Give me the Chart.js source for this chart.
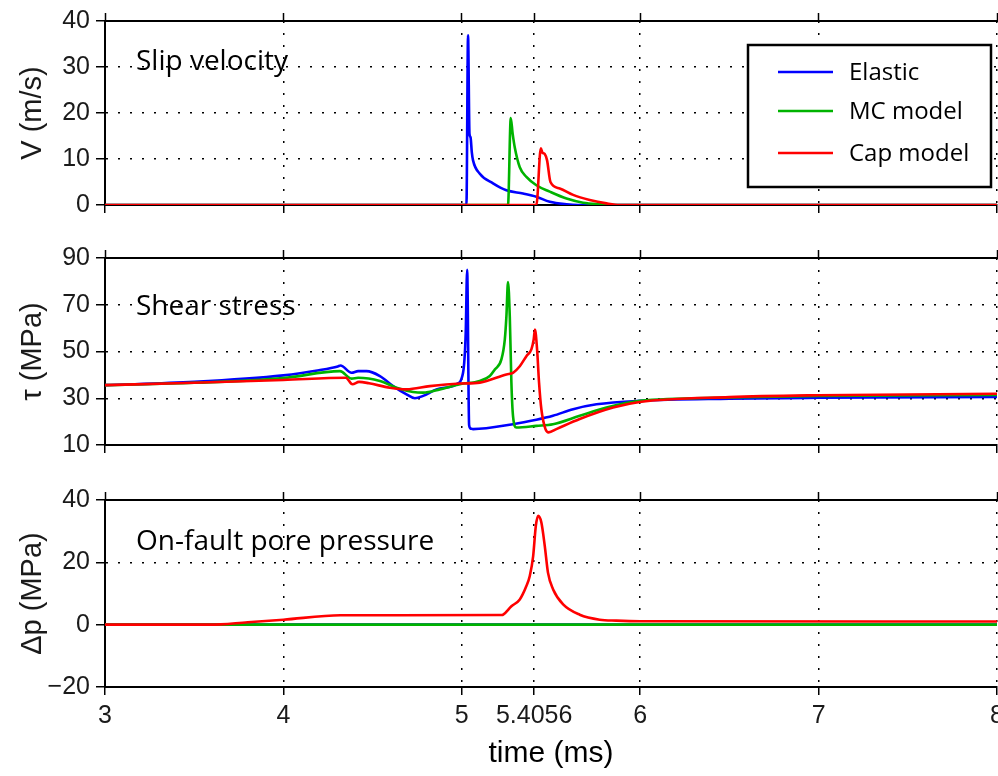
<!DOCTYPE html>
<html>
<head>
<meta charset="utf-8">
<script src="https://cdn.jsdelivr.net/npm/chart.js@4.4.1/dist/chart.umd.min.js"></script>
<style>
  html, body { margin: 0; padding: 0; background: #fff; overflow: hidden; }
  #wrap { position: relative; width: 998px; height: 776px; overflow: hidden; }
  canvas { position: absolute; left: 0; }
</style>
</head>
<body>
<div id="wrap">
  <canvas id="c1" width="1012" height="230" style="top:0px"></canvas>
  <canvas id="c2" width="1012" height="236" style="top:230px"></canvas>
  <canvas id="c3" width="1012" height="310" style="top:466px"></canvas>
</div>
<script>
// series
const seriesNames = ['Elastic', 'MC model', 'Cap model'];
const seriesColors = ['#0000ff', '#00b300', '#ff0000'];

// x axis (time, ms)
const xTickValues = [3, 4, 5, 5.4056, 6, 7, 8];

// slip velocity V (m/s)
const velElasticT = [3, 5.026, 5.035, 5.043, 5.049, 5.056, 5.063, 5.101, 5.175, 5.250, 5.343, 5.418, 5.493, 5.587, 5.65, 8];
const velElastic  = [0, 0, 36.9, 15.5, 14.7, 11.5, 9.7, 6.8, 4.7, 3.2, 2.5, 1.8, 0.7, 0.15, 0, 0];
const velMCT = [3, 5.259, 5.2745, 5.285, 5.297, 5.325, 5.362, 5.418, 5.493, 5.587, 5.680, 5.773, 5.85, 8];
const velMC  = [0, 0, 18.9, 15.5, 12.5, 8.2, 6.1, 4.3, 2.9, 1.4, 0.5, 0.15, 0, 0];
const velCapT = [3, 5.418, 5.443, 5.452, 5.465, 5.478, 5.497, 5.549, 5.624, 5.717, 5.811, 5.885, 8];
const velCap  = [0, 0, 12.3, 11.4, 11.1, 9.7, 5.0, 3.6, 2.2, 1.1, 0.35, 0, 0];

// shear stress tau (MPa)
const tauElasticT = [3, 3.5, 4.0, 4.2, 4.305, 4.32, 4.382, 4.419, 4.466, 4.541, 4.615, 4.690, 4.737, 4.783, 4.858, 4.951, 4.970, 5.007, 5.022, 5.030, 5.041, 5.050, 5.063, 5.287, 5.418, 5.511, 5.624, 5.755, 5.997, 6.5, 7.0, 8];
const tauElastic  = [35.6, 37.0, 39.8, 42.0, 43.6, 44.0, 40.9, 41.6, 41.6, 39.5, 35.2, 31.7, 30.0, 31.0, 33.8, 35.2, 36.0, 40.9, 58.0, 84.9, 18.5, 17.0, 16.8, 18.9, 20.8, 22.5, 25.3, 27.4, 28.9, 29.8, 30.2, 30.6];
const tauMCT = [3, 3.5, 4.0, 4.317, 4.382, 4.419, 4.541, 4.634, 4.727, 4.783, 4.877, 4.989, 5.101, 5.157, 5.185, 5.222, 5.241, 5.250, 5.259, 5.269, 5.278, 5.287, 5.306, 5.418, 5.511, 5.661, 5.811, 5.997, 6.5, 7.0, 8];
const tauMC  = [35.6, 36.6, 38.6, 41.6, 38.4, 38.8, 37.4, 34.5, 32.7, 32.4, 33.8, 36.0, 37.4, 39.5, 42.3, 46.6, 55.1, 65.0, 79.7, 65.0, 36.7, 22.5, 17.5, 18.2, 18.9, 22.5, 26.0, 28.9, 30.3, 31.0, 31.4];
const tauCapT = [3, 3.5, 4.0, 4.35, 4.387, 4.424, 4.480, 4.597, 4.690, 4.821, 4.989, 5.101, 5.250, 5.287, 5.325, 5.362, 5.390, 5.403, 5.410, 5.422, 5.433, 5.446, 5.469, 5.487, 5.530, 5.661, 5.848, 5.997, 6.5, 7.0, 8];
const tauCap  = [35.6, 36.6, 37.8, 38.8, 36.0, 37.0, 36.4, 34.5, 33.8, 35.2, 36.3, 36.7, 40.2, 40.9, 43.7, 48.0, 50.9, 55.1, 59.4, 50.9, 36.7, 25.3, 16.8, 15.4, 16.8, 21.1, 26.0, 28.4, 30.5, 31.3, 31.9];

// on-fault pore pressure change dp (MPa)
const dpElasticT = [3, 8];
const dpElastic  = [0, 0];
const dpMCT = [3, 8];
const dpMC  = [0, 0];
const dpCapT = [3, 3.59, 3.8, 4.0, 4.32, 5.224, 5.232, 5.278, 5.325, 5.362, 5.381, 5.400, 5.415, 5.428, 5.446, 5.465, 5.483, 5.512, 5.568, 5.661, 5.773, 5.866, 6.0, 8];
const dpCap  = [0, 0, 0.8, 1.6, 3.0, 3.1, 3.2, 5.9, 8.1, 12.4, 15.6, 22.0, 31.7, 34.9, 32.8, 25.3, 16.7, 11.3, 6.5, 3.2, 1.6, 1.3, 1.1, 1.0];

const tickFont = { family: '"Liberation Sans", Arial, sans-serif', size: 25 };
const titleFont = { family: '"Liberation Sans", Arial, sans-serif', size: 29 };
const textFont = '"Open Sans", "Noto Sans", sans-serif';

function pts(t, v) {
    return t.map((x, i) => ({ x: x, y: v[i] }));
}

function makeDatasets(list) {
    // Cap model is drawn on top
    return list.map((s, i) => ({
        label: seriesNames[i],
        data: pts(s[0], s[1]),
        borderColor: seriesColors[i],
        backgroundColor: seriesColors[i],
        borderWidth: 2.6,
        pointRadius: 0,
        cubicInterpolationMode: 'monotone',
        fill: false,
        order: list.length - i
    }));
}

// text inside the plot area ("Slip velocity" ...)
const panelLabel = {
    id: 'panelLabel',
    afterDraw(chart, args, opts) {
        if (!opts.text) return;
        const ctx = chart.ctx;
        const a = chart.chartArea;
        ctx.save();
        ctx.font = opts.size + 'px ' + textFont;
        ctx.fillStyle = '#000';
        ctx.textBaseline = 'middle';
        ctx.textAlign = 'left';
        ctx.fillText(opts.text, a.left + 31, a.top + opts.dy);
        ctx.restore();
    }
};

// boxed legend in the top panel
const boxLegend = {
    id: 'boxLegend',
    afterDraw(chart, args, opts) {
        if (!opts.show) return;
        const ctx = chart.ctx;
        const x0 = 748, y0 = 45, w = 243, h = 142;
        ctx.save();
        ctx.fillStyle = '#fff';
        ctx.fillRect(x0, y0, w, h);
        ctx.lineWidth = 2.5;
        ctx.strokeStyle = '#000';
        ctx.strokeRect(x0, y0, w, h);
        ctx.font = '24px ' + textFont;
        ctx.textBaseline = 'middle';
        const rows = [27, 66, 108];
        seriesNames.forEach((name, i) => {
            const y = y0 + rows[i];
            ctx.strokeStyle = seriesColors[i];
            ctx.lineWidth = 2.5;
            ctx.beginPath();
            ctx.moveTo(x0 + 30, y);
            ctx.lineTo(x0 + 85, y);
            ctx.stroke();
            ctx.fillStyle = '#000';
            ctx.fillText(name, x0 + 101, y + 1);
        });
        ctx.restore();
    }
};

function xAxes(showLabels, topH, bottomH) {
    const common = {
        type: 'linear',
        min: 3,
        max: 8,
        afterBuildTicks: axis => { axis.ticks = xTickValues.map(v => ({ value: v })); }
    };
    return {
        x: Object.assign({}, common, {
            position: 'bottom',
            ticks: {
                display: showLabels,
                autoSkip: false,
                maxRotation: 0,
                padding: 6,
                color: '#1a1a1a',
                font: tickFont,
                callback: v => String(v)
            },
            grid: { color: '#000', lineWidth: 1.5, tickLength: 8, tickColor: '#000', tickWidth: 1.5 },
            border: { display: true, color: '#000', width: 2, dash: [2, 10] },
            title: {
                display: showLabels,
                text: 'time (ms)',
                color: '#000',
                font: { family: titleFont.family, size: 30 },
                padding: { top: 0, bottom: 4 }
            },
            afterFit: s => { s.height = bottomH; }
        }),
        xTop: Object.assign({}, common, {
            position: 'top',
            ticks: { display: false },
            grid: { drawOnChartArea: false, tickLength: 8, tickColor: '#000', tickWidth: 1.5, color: '#000' },
            border: { display: true, color: '#000', width: 2 },
            afterFit: s => { s.height = topH; }
        })
    };
}

function yAxis(min, max, step, title) {
    return {
        type: 'linear',
        position: 'left',
        min: min,
        max: max,
        ticks: {
            stepSize: step,
            padding: 6,
            color: '#1a1a1a',
            font: tickFont,
            callback: v => String(v).replace('-', '\u2212')
        },
        grid: { color: '#000', lineWidth: 1.5, tickLength: 9, tickColor: '#000', tickWidth: 1.5 },
        border: { display: true, color: '#000', width: 2, dash: [2, 10] },
        title: {
            display: true,
            text: title,
            color: '#1a1a1a',
            font: titleFont,
            padding: { top: 16, bottom: 0 }
        },
        afterFit: s => { s.width = 105; }
    };
}

function makeChart(id, datasets, y, x, label, legend) {
    const scales = Object.assign({}, x, { y: y });
    return new Chart(document.getElementById(id), {
        type: 'line',
        data: { datasets: datasets },
        options: {
            responsive: false,
            animation: false,
            events: [],
            layout: { padding: { left: 0, right: 15, top: 0, bottom: 0 } },
            scales: scales,
            plugins: {
                legend: { display: false },
                tooltip: { enabled: false },
                panelLabel: label,
                boxLegend: { show: legend }
            }
        },
        plugins: [panelLabel, boxLegend]
    });
}

makeChart('c1',
    makeDatasets([[velElasticT, velElastic], [velMCT, velMC], [velCapT, velCap]]),
    yAxis(0, 40, 10, 'V (m/s)'),
    xAxes(false, 19, 25),
    { text: 'Slip velocity', size: 28, dy: 41 },
    true);

makeChart('c2',
    makeDatasets([[tauElasticT, tauElastic], [tauMCT, tauMC], [tauCapT, tauCap]]),
    yAxis(10, 90, 20, '\u03c4 (MPa)'),
    xAxes(false, 28, 20),
    { text: 'Shear stress', size: 28, dy: 49 },
    false);

makeChart('c3',
    makeDatasets([[dpElasticT, dpElastic], [dpMCT, dpMC], [dpCapT, dpCap]]),
    yAxis(-20, 40, 20, '\u0394p (MPa)'),
    xAxes(true, 34, 89),
    { text: 'On-fault pore pressure', size: 28, dy: 42 },
    false);
</script>
</body>
</html>
